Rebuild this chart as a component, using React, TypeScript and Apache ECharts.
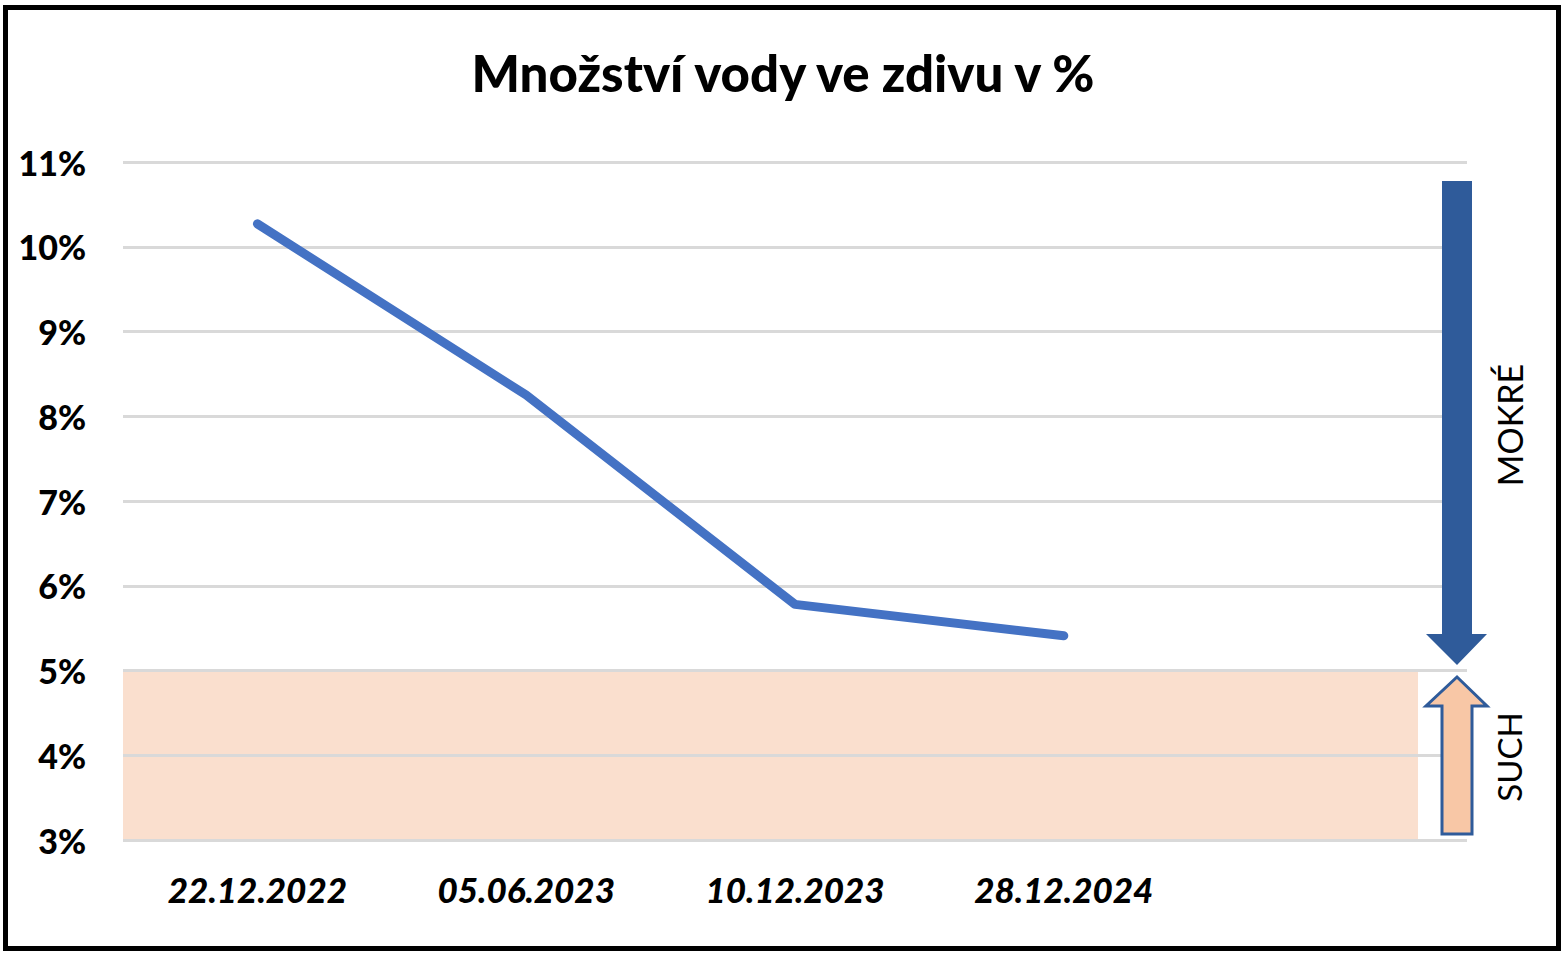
import React, { useEffect, useRef } from "react";
import * as echarts from "echarts";

const TITLE = "Množství vody ve zdivu v %";
const categories = ["22.12.2022", "05.06.2023", "10.12.2023", "28.12.2024", ""];
const waterPct = [10.27, 8.25, 5.78, 5.41, null];
const yMin = 3;
const yMax = 11;
const dryLimit = 5;
const wetLabel = "MOKRÉ";
const dryLabel = "SUCH";

const FONT = "Lato, 'Open Sans', sans-serif";

export default function App() {
  const ref = useRef<HTMLDivElement>(null);
  useEffect(() => {
    document.body.style.margin = "0";
    const chart = echarts.init(ref.current!, null, { renderer: "svg" });
    const option: any = {
      animation: false,
      backgroundColor: "#ffffff",
      title: {
        text: TITLE,
        left: "center",
        top: 42,
        textStyle: { fontFamily: FONT, fontSize: 51, fontWeight: 900, color: "#000" },
      },
      grid: { left: 123, right: 99, top: 162, bottom: 116 },
      xAxis: {
        type: "category",
        data: categories,
        boundaryGap: true,
        axisLine: { show: false },
        axisTick: { show: false },
        axisLabel: {
          margin: 31,
          fontFamily: FONT,
          fontSize: 35,
          fontWeight: 900,
          fontStyle: "italic",
          color: "#000",
        },
      },
      yAxis: {
        type: "value",
        min: yMin,
        max: yMax,
        interval: 1,
        axisLine: { show: false },
        axisTick: { show: false },
        splitLine: { lineStyle: { color: "#D9D9D9", width: 3 } },
        axisLabel: {
          margin: 37,
          formatter: "{value}%",
          fontFamily: FONT,
          fontSize: 34,
          fontWeight: 900,
          color: "#000",
        },
      },
      series: [
        {
          type: "line",
          data: waterPct,
          z: 5,
          symbol: "none",
          lineStyle: { color: "#4472C4", width: 9, cap: "round", join: "round" },
        },
      ],
    };
    chart.setOption(option);

    const yTop = chart.convertToPixel({ yAxisIndex: 0 }, dryLimit) as number;
    const yBot = chart.convertToPixel({ yAxisIndex: 0 }, yMin) as number;
    const xLeft = 123;
    const xRight = 1418;

    const downArrow = [
      [1442, 181], [1472, 181], [1472, 634], [1487, 634],
      [1457, 665], [1426, 634], [1442, 634],
    ];
    const upArrow = [
      [1457, 677], [1487, 706], [1472, 706], [1472, 834],
      [1442, 834], [1442, 706], [1426, 706],
    ];

    chart.setOption({
      graphic: [
        {
          type: "rect",
          z: -1,
          silent: true,
          shape: { x: xLeft, y: yTop, width: xRight - xLeft, height: yBot - yTop },
          style: { fill: "#FADFCE" },
        },
        {
          type: "polygon",
          z: 10,
          shape: { points: downArrow },
          style: { fill: "#2F5B9A" },
        },
        {
          type: "polygon",
          z: 10,
          shape: { points: upArrow },
          style: { fill: "#F8C7A6", stroke: "#2F5B9A", lineWidth: 3 },
        },
        {
          type: "text",
          z: 10,
          x: 1509,
          y: 425,
          rotation: Math.PI / 2,
          style: {
            text: wetLabel,
            fontFamily: FONT,
            fontSize: 34,
            fill: "#000",
            align: "center",
            verticalAlign: "middle",
          },
        },
        {
          type: "text",
          z: 10,
          x: 1509,
          y: 757,
          rotation: Math.PI / 2,
          style: {
            text: dryLabel,
            fontFamily: FONT,
            fontSize: 33,
            fill: "#000",
            align: "center",
            verticalAlign: "middle",
          },
        },
        {
          type: "rect",
          z: 20,
          silent: true,
          shape: { x: 5.5, y: 7.5, width: 1553, height: 941 },
          style: { fill: "none", stroke: "#000", lineWidth: 5 },
        },
      ],
    });

    return () => chart.dispose();
  }, []);
  return (
    <div
      ref={ref}
      style={{ position: "absolute", left: 0, top: 0, width: 1566, height: 956 }}
    />
  );
}
